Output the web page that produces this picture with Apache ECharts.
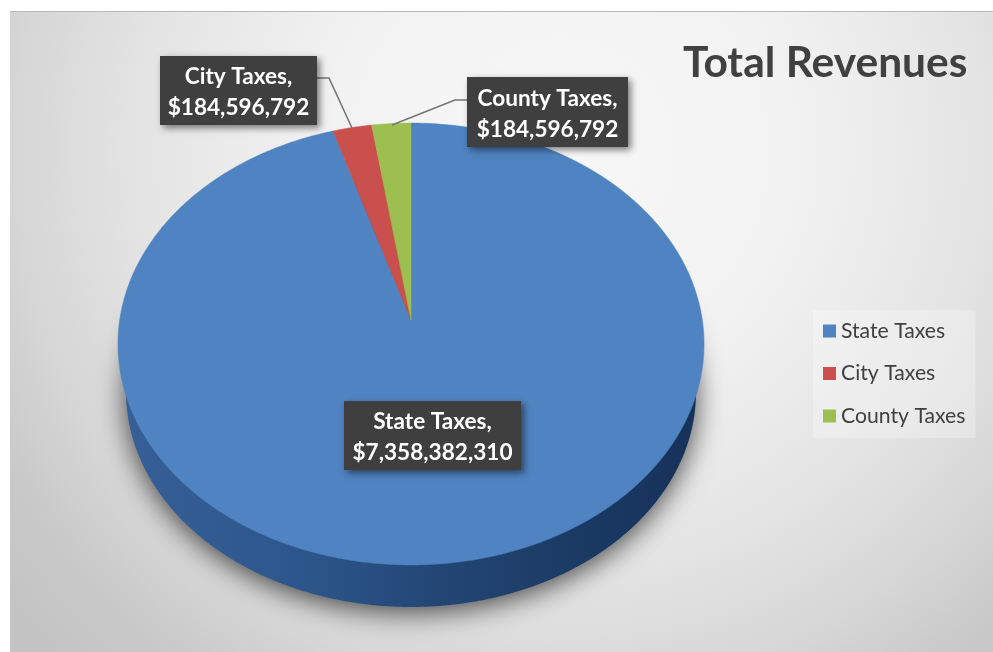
<!DOCTYPE html>
<html>
<head>
<meta charset="utf-8">
<script src="https://cdn.jsdelivr.net/npm/echarts@6/dist/echarts.min.js"></script>
<style>html,body{margin:0;padding:0;background:#fff}#c{width:993px;height:652px}</style>
</head>
<body>
<div id="c"></div>
<script>
const categories = ['State Taxes', 'City Taxes', 'County Taxes'];
const revenues = [7358382310, 184596792, 184596792];
const chartTitle = 'Total Revenues';

const sliceColors = ['#4f83c1', '#c9504c', '#9cbf4f'];
const wallColors = [
  {type:'linear',x:0,y:0,x2:1,y2:0,colorStops:[
    {offset:0,color:'#355f96'},{offset:0.3,color:'#2d578c'},{offset:0.55,color:'#234674'},
    {offset:0.8,color:'#1a3a63'},{offset:1,color:'#16315a'}]},
  '#7c2f2d', '#5f7a2e'
];
// perspective projection of the pie's top disc
const FACE = {cx:411, cy:320, e:291.3, d:183.6, k:-0.1086};
// lower rim of the pie
const RIM = {cx:411, cy:392, rx:285, ry:215};
const LABEL_BOX = [
  {x:344,y:401,w:177,h:69},
  {x:160,y:56,w:157,h:69},
  {x:467,y:77,w:161,h:70}
];
const LEADERS = [null,
  [[317,78],[329,78],[352,128]],
  [[392,125],[455,100],[467,100]]
];
const total = revenues.reduce((a,b)=>a+b,0);

function facePoint(t){
  const x=Math.sin(t), y=-Math.cos(t), w=1+FACE.k*y;
  return [FACE.cx+FACE.e*x/w, (FACE.cy+FACE.d*y)/w];
}
function rimPoint(t){
  return [RIM.cx+RIM.rx*Math.sin(t), RIM.cy-RIM.ry*Math.cos(t)];
}
function arc(fn,a0,a1){
  const n=Math.max(2,Math.ceil((a1-a0)/0.006)), pts=[];
  for(let i=0;i<=n;i++) pts.push(fn(a0+(a1-a0)*i/n));
  return pts;
}
function money(v){ return '$'+v.toLocaleString('en-US'); }

function renderSlice(params, api){
  const i=params.seriesIndex;
  const before=revenues.slice(0,i).reduce((a,b)=>a+b,0);
  const a0=before/total*Math.PI*2;
  const a1=a0+api.value(0)/total*Math.PI*2;
  const children=[];
  const wallStyle={fill:wallColors[i]};
  if(i===0){
    wallStyle.shadowBlur=28; wallStyle.shadowColor='rgba(0,0,0,0.7)';
    wallStyle.shadowOffsetX=0; wallStyle.shadowOffsetY=5;
  }
  children.push({type:'polygon',z2:i===0?1:2,shape:{points:arc(rimPoint,a0,a1).concat([[RIM.cx,RIM.cy]])},style:wallStyle});
  children.push({type:'polygon',z2:10,shape:{points:arc(facePoint,a0,a1).concat([[FACE.cx,FACE.cy]])},
    style:{fill:sliceColors[i],stroke:sliceColors[i],lineWidth:0.5}});
  const b=LABEL_BOX[i];
  if(LEADERS[i]) children.push({type:'polyline',z2:20,shape:{points:LEADERS[i]},style:{fill:null,stroke:'#757575',lineWidth:1.6}});
  children.push({type:'rect',z2:30,shape:{x:b.x,y:b.y,width:b.w,height:b.h},
    style:{fill:'#3f3f3f',shadowBlur:7,shadowOffsetX:3,shadowOffsetY:3,shadowColor:'rgba(0,0,0,0.5)'}});
  children.push({type:'text',z2:31,style:{text:categories[i]+',\n'+money(api.value(0)),
    x:b.x+b.w/2,y:b.y+b.h/2+2,align:'center',verticalAlign:'middle',fill:'#ffffff',
    fontFamily:'Lato',fontWeight:'bold',fontSize:22.6,lineHeight:31}});
  return {type:'group',children};
}

const chart=echarts.init(document.getElementById('c'),null,{renderer:'canvas'});
chart.setOption({
  animation:false,
  backgroundColor:'#ffffff',
  title:{text:chartTitle,left:683,top:42,padding:0,
    textStyle:{fontFamily:'Lato',fontWeight:'bold',fontSize:42.5,color:'#404040'}},
  legend:{orient:'vertical',left:813,top:310,
    data:categories,icon:'rect',itemWidth:13,itemHeight:13,itemGap:20.5,
    padding:[10,10,11,10],backgroundColor:'rgba(255,255,255,0.28)',selectedMode:false,
    textStyle:{fontFamily:'Lato',fontSize:21.2,color:'#404040',lineHeight:22}},
  graphic:{elements:[
    {type:'rect',z:-10,silent:true,shape:{x:10,y:11,width:983,height:641},
     style:{fill:{type:'radial',global:true,x:560,y:150,r:720,colorStops:[
       {offset:0,color:'#f8f8f8'},{offset:0.35,color:'#f1f1f1'},{offset:0.6,color:'#e3e3e3'},
       {offset:0.76,color:'#d6d6d6'},{offset:0.89,color:'#c8c8c8'},{offset:1,color:'#c4c4c4'}]}}},
    {type:'line',z:-9,silent:true,shape:{x1:10,y1:11.5,x2:993,y2:11.5},style:{stroke:'#b8b8b8',lineWidth:1}}
  ]},
  series:categories.map((name,i)=>({
    type:'custom',name,coordinateSystem:'none',silent:true,
    itemStyle:{color:sliceColors[i]},
    renderItem:renderSlice,
    data:[[revenues[i]]]
  }))
});
</script>
</body>
</html>
